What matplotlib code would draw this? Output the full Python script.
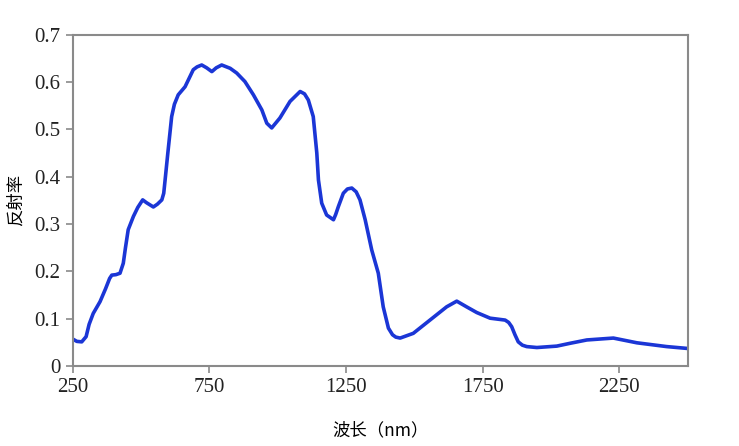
import numpy as np
import matplotlib
matplotlib.use('Agg')
import matplotlib.pyplot as plt

# wavelength (nm) and reflectance
wavelength = [250, 265, 283, 299, 310, 325, 350, 370, 385, 393, 408, 423, 435,
              443, 453, 472, 488, 506, 520, 545, 560, 576, 583, 588, 598, 612,
              622, 636, 661, 691, 705, 722, 740, 759, 775, 795, 826, 850, 880,
              911, 942, 960, 978, 1008, 1045, 1082, 1098, 1112, 1130, 1143,
              1149, 1161, 1179, 1204, 1212, 1222, 1240, 1255, 1271, 1287, 1301,
              1320, 1344, 1368, 1386, 1405, 1420, 1432, 1448, 1496, 1557, 1618,
              1655, 1691, 1728, 1777, 1832, 1845, 1856, 1868, 1880, 1895, 1911,
              1948, 2021, 2070, 2131, 2228, 2314, 2423, 2500]
reflectance = [0.057, 0.052, 0.051, 0.062, 0.088, 0.111, 0.136, 0.163, 0.185,
               0.192, 0.193, 0.196, 0.217, 0.250, 0.288, 0.316, 0.335, 0.351,
               0.345, 0.336, 0.342, 0.351, 0.365, 0.393, 0.450, 0.527, 0.553,
               0.573, 0.590, 0.626, 0.632, 0.636, 0.630, 0.622, 0.630, 0.636,
               0.629, 0.619, 0.601, 0.573, 0.541, 0.513, 0.503, 0.524, 0.559,
               0.580, 0.575, 0.562, 0.527, 0.450, 0.393, 0.344, 0.319, 0.309,
               0.320, 0.337, 0.365, 0.374, 0.376, 0.368, 0.351, 0.309, 0.245,
               0.196, 0.125, 0.080, 0.066, 0.061, 0.059, 0.069, 0.097, 0.125,
               0.137, 0.125, 0.113, 0.101, 0.097, 0.092, 0.083, 0.066, 0.051,
               0.044, 0.041, 0.039, 0.042, 0.048, 0.055, 0.059, 0.049, 0.041,
               0.037]

xticks = [250, 750, 1250, 1750, 2250]
yticks = [0, 0.1, 0.2, 0.3, 0.4, 0.5, 0.6, 0.7]
ytick_labels = ['0', '0.1', '0.2', '0.3', '0.4', '0.5', '0.6', '0.7']

plt.rcParams['font.family'] = ['Noto Sans CJK SC', 'DejaVu Sans']

fig = plt.figure(figsize=(7.39, 4.46), dpi=100)
ax = fig.add_axes([0.0984, 0.1794, 0.8322, 0.7428])

ax.plot(wavelength, reflectance, color='#1b36d6', lw=2.6,
        solid_joinstyle='round', solid_capstyle='round')

ax.set_xlim(250, 2500)
ax.set_ylim(0, 0.7)
ax.set_xticks(xticks)
ax.set_yticks(yticks)
ax.set_yticklabels(ytick_labels)

for lab in ax.get_xticklabels() + ax.get_yticklabels():
    lab.set_fontfamily('Liberation Serif')
    lab.set_fontsize(15)
    lab.set_color('#222222')

for s in ax.spines.values():
    s.set_color('#8a8a8a')
    s.set_linewidth(1.5)
ax.tick_params(direction='out', length=5, width=1.2, color='#8a8a8a', pad=4)

ax.set_xlabel('波长（nm）', fontsize=12.5, labelpad=17)
ax.set_ylabel('反射率', fontsize=12.5, labelpad=7)

fig.savefig('out.png', dpi=100)
